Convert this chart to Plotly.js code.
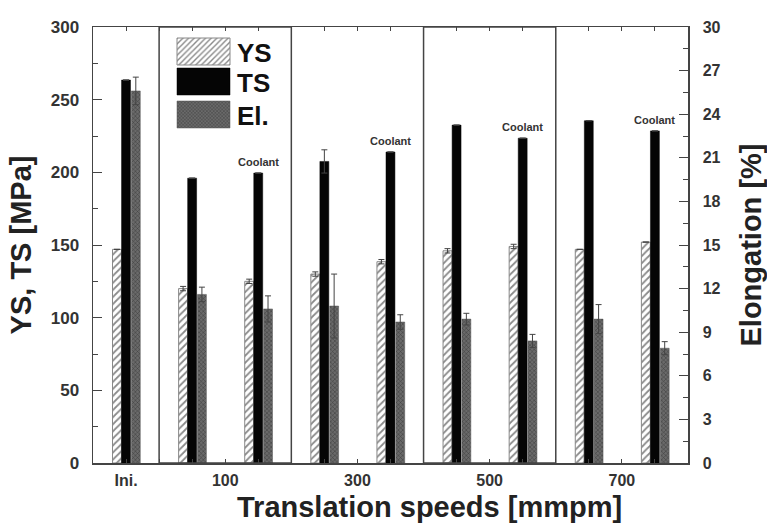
<!DOCTYPE html>
<html>
<head>
<meta charset="utf-8">
<script src="https://cdn.plot.ly/plotly-3.0.1.min.js"></script>
<style>html,body{margin:0;padding:0;background:#fff}#chart{width:767px;height:525px}</style>
</head>
<body>
<div id="chart"></div>
<script>
// positions of the 9 bar clusters on a numeric axis (Ini., 100, 100 coolant, 300, ...)
const positions = [0, 1, 2, 3, 4, 5, 6, 7, 8];
const coolant = [false, false, true, false, true, false, true, false, true];
const tickPositions = [0, 1.5, 3.5, 5.5, 7.5];
const tickLabels = ["Ini.", "100", "300", "500", "700"];

const ysValues = [147, 120, 125, 130, 138.5, 146, 149, 147, 152];
const ysErr    = [0, 1.5, 1.5, 1.5, 1.5, 1.5, 1.5, 0, 0];
const tsValues = [263.5, 196, 199.5, 207.5, 214, 232.5, 223.5, 235.5, 228.5];
const tsErr    = [0, 0, 0, 8, 0, 0, 0, 0, 0];
const elValues = [25.6, 11.6, 10.6, 10.8, 9.7, 9.9, 8.4, 9.9, 7.9];
const elErr    = [0.95, 0.5, 0.9, 2.2, 0.5, 0.4, 0.45, 1.0, 0.45];

const FONT = "Arial, 'Liberation Sans', sans-serif";
const BW = 0.135;

const errStyle = (arr) => ({type: 'data', array: arr, visible: true, color: '#444', thickness: 1, width: 3});

const traces = [
  {
    type: 'bar', name: 'YS', x: positions, y: ysValues, width: BW, offset: -0.205,
    marker: {color: '#ffffff', line: {color: '#888', width: 1},
      pattern: {shape: '/', fgcolor: '#8a8a8a', bgcolor: '#ffffff', size: 5, solidity: 0.35}},
    error_y: errStyle(ysErr), yaxis: 'y'
  },
  {
    type: 'bar', name: 'TS', x: positions, y: tsValues, width: BW, offset: -0.068,
    marker: {color: '#050505', line: {color: '#000', width: 0.5}},
    error_y: errStyle(tsErr), yaxis: 'y'
  },
  {
    type: 'bar', name: 'El.', x: positions, y: elValues, width: BW, offset: 0.08,
    marker: {color: '#666666', line: {color: '#555', width: 0.5},
      pattern: {shape: 'x', fgcolor: '#3a3a3a', bgcolor: '#6a6a6a', size: 3, solidity: 0.3}},
    error_y: errStyle(elErr), yaxis: 'y2'
  }
];

const annotations = [];
positions.forEach((p, i) => {
  if (coolant[i]) {
    annotations.push({x: p, y: tsValues[i], xref: 'x', yref: 'y', text: 'Coolant', showarrow: false,
      yanchor: 'middle', yshift: 11, font: {family: FONT, size: 11, color: '#333', weight: 'bold'}});
  }
});
// x-axis title, placed right of the plot centre as in the original figure
annotations.push({text: 'Translation speeds [mmpm]', xref: 'paper', yref: 'paper', x: 0.566, y: -0.101,
  xanchor: 'center', yanchor: 'middle', showarrow: false,
  font: {family: FONT, size: 29, color: '#222', weight: 'bold'}});

const shapes = [
  {type: 'rect', xref: 'x', yref: 'paper', x0: 0.5, x1: 2.5, y0: 0, y1: 1, line: {color: '#444', width: 1.5}},
  {type: 'rect', xref: 'x', yref: 'paper', x0: 4.5, x1: 6.5, y0: 0, y1: 1, line: {color: '#444', width: 1.5}}
];

const layout = {
  width: 767, height: 525,
  margin: {l: 93, r: 79, t: 27, b: 62},
  paper_bgcolor: '#fff', plot_bgcolor: '#fff',
  barmode: 'overlay',
  showlegend: true,
  legend: {x: 0.135, y: 0.985, xanchor: 'left', yanchor: 'top', bgcolor: 'rgba(255,255,255,0)',
    font: {family: FONT, size: 26, color: '#111', weight: 'bold'}},
  font: {family: FONT, color: '#222'},
  xaxis: {
    range: [-0.5, 8.5], tickmode: 'array', tickvals: tickPositions, ticktext: tickLabels,
    ticks: 'inside', ticklen: 4, tickcolor: '#444', showline: true, linecolor: '#444', linewidth: 1.5,
    mirror: 'ticks', showgrid: false, zeroline: false, ticklabelstandoff: 2,
    minor: {tickmode: 'linear', tick0: 0, dtick: 0.5, ticks: 'inside', ticklen: 4, tickcolor: '#444', showgrid: false},
    tickfont: {family: FONT, size: 16, color: '#333', weight: 'bold'}
  },
  yaxis: {
    range: [0, 300], dtick: 50, ticks: 'inside', ticklen: 9, tickcolor: '#444', ticklabelstandoff: 9,
    showline: true, linecolor: '#444', linewidth: 1.5, showgrid: false, zeroline: false,
    minor: {dtick: 25, ticks: 'inside', ticklen: 5, tickcolor: '#444', showgrid: false},
    tickfont: {family: FONT, size: 17, color: '#333', weight: 'bold'},
    title: {text: 'YS, TS [MPa]', font: {family: FONT, size: 29, color: '#222', weight: 'bold'}, standoff: 10}
  },
  yaxis2: {
    overlaying: 'y', side: 'right', range: [0, 30], dtick: 3, ticks: 'inside', ticklen: 9, tickcolor: '#444',
    showline: true, linecolor: '#444', linewidth: 1.5, showgrid: false, zeroline: false, ticklabelstandoff: 10,
    minor: {dtick: 1.5, ticks: 'inside', ticklen: 5, tickcolor: '#444', showgrid: false},
    tickfont: {family: FONT, size: 16, color: '#333', weight: 'bold'},
    title: {text: 'Elongation [%]', font: {family: FONT, size: 29, color: '#222', weight: 'bold'}, standoff: 22}
  },
  shapes: shapes,
  annotations: annotations
};

// enlarged legend swatches placed like the original figure's legend box
const legendSwatchCenterX = 203.5;
const legendRowCenterY = [51.5, 81.5, 114.5];
const legendTextLeft = 237;

Plotly.newPlot('chart', traces, layout, {displayModeBar: false, staticPlot: true}).then(gd => {
  const svg = gd.querySelector('.main-svg').getBoundingClientRect();
  const scroll = gd.querySelector('.legend .scrollbox');
  if (scroll) scroll.removeAttribute('clip-path');
  const items = gd.querySelectorAll('.legend .traces');
  items.forEach((it, i) => {
    const path = it.querySelector('.legendpoints path');
    const txt = it.querySelector('.legendtext');
    if (path) {
      path.setAttribute('d', 'M26.5,13.5H-26.5V-13.5H26.5Z');
      const orig = path.getAttribute('transform') || '';
      const r = path.getBoundingClientRect();
      const cx = r.x + r.width / 2 - svg.x, cy = r.y + r.height / 2 - svg.y;
      path.setAttribute('transform', `translate(${legendSwatchCenterX - cx},${legendRowCenterY[i] - cy}) ${orig}`);
    }
    if (txt) {
      const orig = txt.getAttribute('transform') || '';
      const r = txt.getBoundingClientRect();
      const lx = r.x - svg.x, cy = r.y + r.height / 2 - svg.y;
      txt.setAttribute('transform', `translate(${legendTextLeft - lx},${legendRowCenterY[i] - cy + 1}) ${orig}`);
    }
  });
});
</script>
</body>
</html>
